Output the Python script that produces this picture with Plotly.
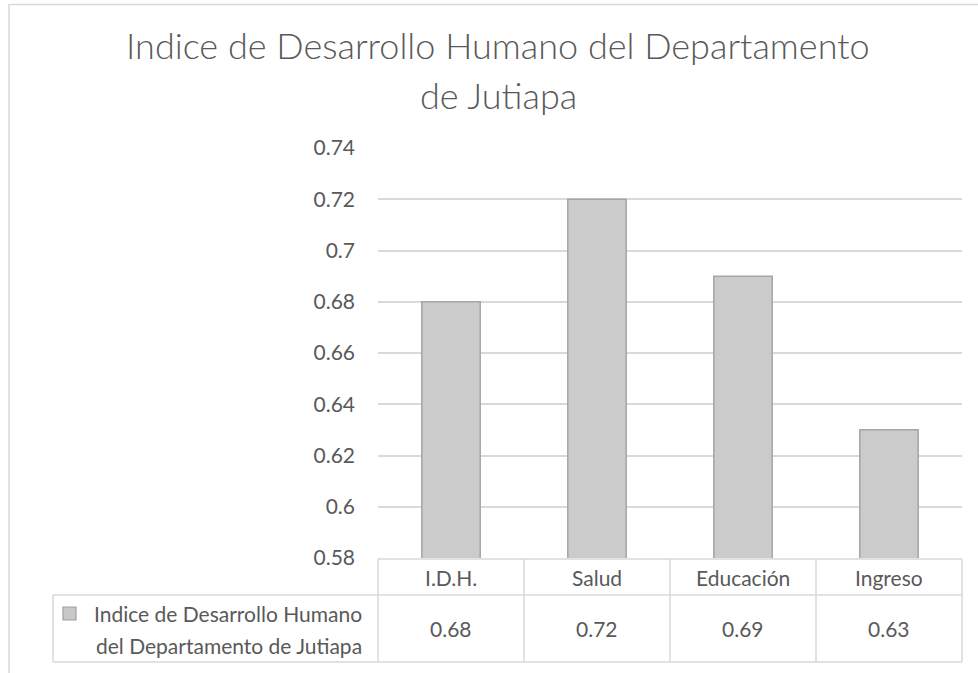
import plotly.graph_objects as go

categories = ["I.D.H.", "Salud", "Educación", "Ingreso"]
values = [0.68, 0.72, 0.69, 0.63]
series_name = "Indice de Desarrollo Humano del Departamento de Jutiapa"
title_lines = ["Indice de Desarrollo Humano del Departamento", "de Jutiapa"]
y_ticks = [0.58, 0.60, 0.62, 0.64, 0.66, 0.68, 0.70, 0.72, 0.74]
y_tick_labels = ["0.58", "0.6", "0.62", "0.64", "0.66", "0.68", "0.7", "0.72", "0.74"]

W, H = 978, 673
L, R, T, B = 378, 962, 148, 558
FONT = "Lato"
TXT = "#595959"
GRID = "#d9d9d9"
FS = 21

def px(x):
    return (x - L) / (R - L)

def py(y):
    return (B - y) / (B - T)

fig = go.Figure()
fig.add_trace(go.Bar(
    x=categories, y=values, name=series_name,
    marker=dict(color="#cbcbcb", line=dict(color="#a5a5a5", width=1.5)),
    showlegend=False,
))

shapes = []
# outer chart border (right side off-screen)
shapes.append(dict(type="rect", xref="paper", yref="paper",
                   x0=px(9), x1=px(1000), y0=py(720), y1=py(4.5),
                   line=dict(color="#d9d9d9", width=1.5), layer="below"))

def hline(y, x0, x1):
    shapes.append(dict(type="line", xref="paper", yref="paper",
                       x0=px(x0), x1=px(x1), y0=py(y), y1=py(y),
                       line=dict(color=GRID, width=1.5)))

def vline(x, y0, y1):
    shapes.append(dict(type="line", xref="paper", yref="paper",
                       x0=px(x), x1=px(x), y0=py(y0), y1=py(y1),
                       line=dict(color=GRID, width=1.5)))

hline(559, L, R)
hline(595, 53, R)
hline(662, 53, R)
n = len(categories)
for i in range(n + 1):
    vline(L + i * (R - L) / n, 559, 662)
vline(53, 595, 662)
# legend key square
shapes.append(dict(type="rect", xref="paper", yref="paper",
                   x0=px(63), x1=px(76), y0=py(620), y1=py(607),
                   fillcolor="#c8c8c8", line=dict(color="#a0a0a0", width=1.2)))

annotations = []
for i, (c, v) in enumerate(zip(categories, values)):
    cx = px(L + (i + 0.5) * (R - L) / n)
    annotations.append(dict(x=cx, y=py(577), xref="paper", yref="paper",
                            text=c, showarrow=False, xanchor="center", yanchor="middle",
                            font=dict(family=FONT, size=FS, color=TXT)))
    annotations.append(dict(x=cx, y=py(628), xref="paper", yref="paper",
                            text=f"{v:.2f}", showarrow=False, xanchor="center", yanchor="middle",
                            font=dict(family=FONT, size=FS, color=TXT)))
name_words = series_name.split(" ")
line1 = " ".join(name_words[:4])
line2 = " ".join(name_words[4:])
annotations.append(dict(x=px(364), y=py(613), xref="paper", yref="paper",
                        text=line1, showarrow=False, xanchor="right", yanchor="middle",
                        font=dict(family=FONT, size=FS, color=TXT)))
annotations.append(dict(x=px(364), y=py(645), xref="paper", yref="paper",
                        text=line2, showarrow=False, xanchor="right", yanchor="middle",
                        font=dict(family=FONT, size=FS, color=TXT)))
# title
for tl, ty in zip(title_lines, [45, 95]):
    annotations.append(dict(x=px(498), y=py(ty), xref="paper", yref="paper",
                            text=tl, showarrow=False, xanchor="center", yanchor="middle",
                            font=dict(family=FONT, size=36, color=TXT, weight=300)))

fig.update_layout(
    width=W, height=H,
    margin=dict(l=L, r=W - R, t=T, b=H - B),
    paper_bgcolor="white", plot_bgcolor="white",
    bargap=0.6,
    xaxis=dict(showticklabels=False, showline=False, showgrid=False, zeroline=False,
               range=[-0.5, n - 0.5]),
    yaxis=dict(range=[0.58, 0.74], tickvals=y_ticks, ticktext=y_tick_labels,
               showgrid=True, gridcolor=GRID, gridwidth=1.5, zeroline=False,
               showline=False, ticks="", ticklabelstandoff=22,
               tickfont=dict(family=FONT, size=FS, color=TXT)),
    shapes=shapes, annotations=annotations,
)
fig.write_html("out.html", config={"displayModeBar": False},
               post_script="document.body.style.margin='0';document.body.style.overflow='hidden';")
